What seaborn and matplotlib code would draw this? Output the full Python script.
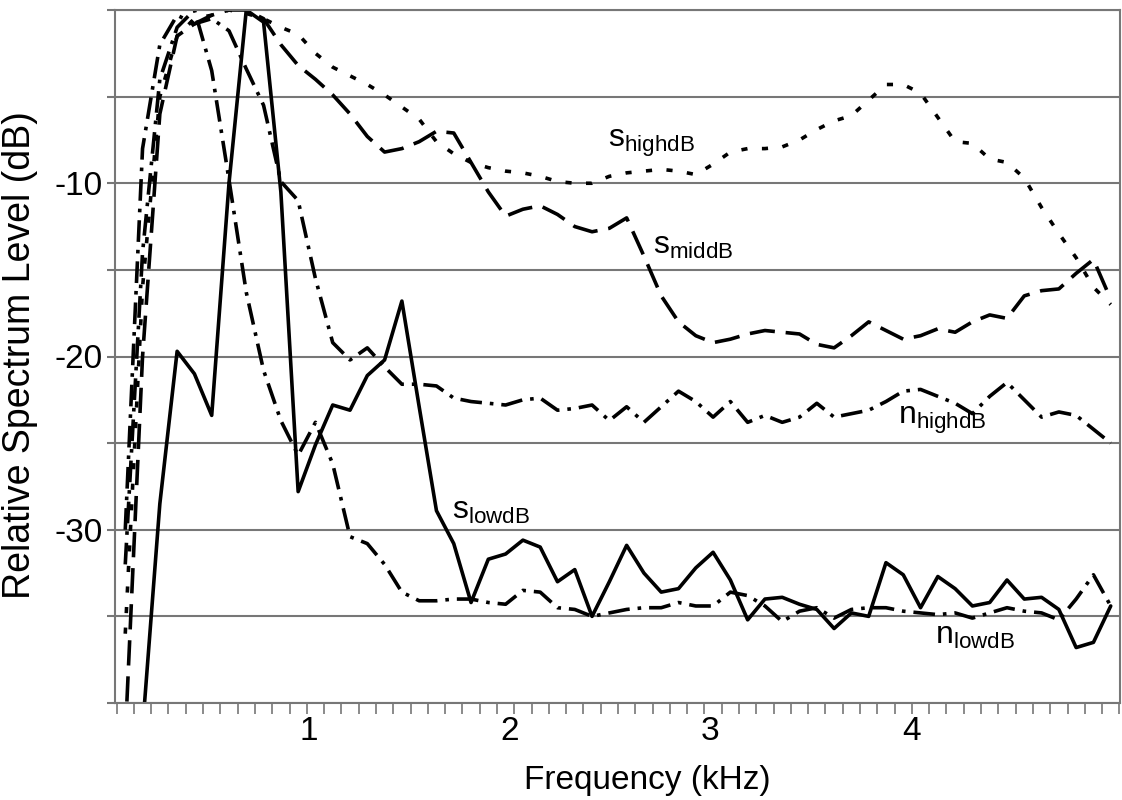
import numpy as np
import pandas as pd
import seaborn as sns
import matplotlib.pyplot as plt
import matplotlib.ticker as mtick

# frequency bins (kHz), 86.1 Hz spacing
freq = np.round(0.0861 * np.arange(1, 59), 4)

s_low = [-48, -41.5, -28.5, -19.7, -21, -23.4, -10, 0, -0.7, -10.5,
         -27.8, -25.1, -22.8, -23.1, -21.1, -20.2, -16.8, -22.9, -28.9, -30.8,
         -34.2, -31.7, -31.4, -30.6, -31, -33, -32.3, -35, -33, -30.9,
         -32.5, -33.6, -33.4, -32.2, -31.3, -32.9, -35.2, -34, -33.9, -34.3,
         -34.6, -35.7, -34.8, -35, -31.9, -32.6, -34.5, -32.7, -33.4, -34.4,
         -34.2, -32.9, -34, -33.9, -34.6, -36.8, -36.5, -34.4]

s_high = [-36, -16, -5, -1.5, -0.5, -0.3, 0, -0.2, -0.5, -1,
          -1.4, -2.5, -3.3, -3.8, -4.3, -4.9, -5.6, -6.3, -7.6, -8.3,
          -8.8, -9.1, -9.3, -9.4, -9.6, -9.9, -10, -10, -9.6, -9.4,
          -9.3, -9.2, -9.3, -9.5, -8.9, -8.2, -8, -8, -7.9, -7.5,
          -6.9, -6.4, -6.1, -5.2, -4.3, -4.3, -4.8, -6.2, -7.6, -7.7,
          -8.6, -8.8, -9.7, -11.4, -12.9, -14.3, -16, -17]

s_mid = [-42, -20, -6, -1.5, -0.8, -0.3, 0, 0, -0.5, -2,
         -3.2, -4, -4.9, -6, -7.3, -8.2, -8, -7.6, -7, -7.1,
         -8.8, -10.5, -11.9, -11.5, -11.3, -11.8, -12.5, -12.8, -12.6, -12,
         -14.2, -16.5, -18, -18.8, -19.2, -19, -18.7, -18.5, -18.6, -18.7,
         -19.3, -19.5, -18.8, -18, -18.5, -19, -18.8, -18.4, -18.6, -18,
         -17.6, -17.8, -16.5, -16.2, -16.1, -15.2, -14.4, -16.7]

n_high = [-30, -8, -2, -0.3, -0.8, -0.5, -1.2, -3.4, -5.5, -9.9,
          -11, -15.5, -19.2, -20.2, -19.5, -20.6, -21.6, -21.6, -21.7, -22.4,
          -22.6, -22.7, -22.8, -22.5, -22.4, -23.1, -23, -22.8, -23.7, -22.9,
          -23.8, -22.9, -22, -22.6, -23.5, -22.6, -23.8, -23.4, -23.8, -23.5,
          -22.7, -23.5, -23.3, -23.1, -22.6, -22, -21.9, -22.3, -22.7, -23.3,
          -22.3, -21.5, -22.5, -23.5, -23.2, -23.4, -24.2, -25]

n_low = [-32, -14, -4, -1, 0, -3.5, -9.8, -16.3, -20.8, -23.7,
         -25.7, -23.8, -26.2, -30.4, -30.8, -32, -33.6, -34.1, -34.1, -34,
         -34, -34.2, -34.3, -33.5, -33.6, -34.5, -34.6, -35, -34.8, -34.6,
         -34.5, -34.5, -34.2, -34.4, -34.4, -33.6, -33.8, -34.4, -35.3, -34.7,
         -34.5, -35.1, -34.6, -34.5, -34.5, -34.7, -34.8, -34.9, -34.8, -35.1,
         -34.8, -34.5, -34.7, -34.8, -35.2, -34, -32.6, -34.4]

series = {'s_low': s_low, 's_high': s_high, 's_mid': s_mid,
          'n_high': n_high, 'n_low': n_low}

df = pd.concat([pd.DataFrame({'freq': freq, 'level': v, 'series': k})
                for k, v in series.items()], ignore_index=True)

line_dashes = {
    's_low': '',
    's_high': (1.7, 4),
    's_mid': (7, 3),
    'n_high': (6, 2.2, 1, 2.2),
    'n_low': (6, 2.2, 1, 2.2),
}

sns.set_theme(style='white')
plt.rcParams['font.family'] = ['Liberation Sans', 'DejaVu Sans']
plt.rcParams['mathtext.fontset'] = 'custom'
plt.rcParams['mathtext.rm'] = 'Liberation Sans'
plt.rcParams['text.color'] = 'black'
plt.rcParams['xtick.color'] = 'black'
plt.rcParams['ytick.color'] = 'black'

fig = plt.figure(figsize=(11.22, 8), dpi=100)
ax = fig.add_axes([115 / 1122, 97 / 800, 1005 / 1122, 693 / 800])

sns.lineplot(data=df, x='freq', y='level', hue='series', style='series',
             palette=['black'] * 5, dashes=line_dashes, linewidth=2.6,
             legend=False, ax=ax)

grey = '#777777'
ax.set_xlim(0.035, 5.04)
ax.set_ylim(-40, 0)

# y axis: grid every 5 dB, labels every 10
ax.set_yticks(np.arange(-40, 1, 5))
ax.yaxis.set_major_formatter(mtick.FixedFormatter(
    ['', '', '-30', '', '-20', '', '-10', '', '']))
ax.yaxis.grid(True, color=grey, linewidth=1.5)
ax.tick_params(axis='y', direction='out', length=6, width=1.5, color=grey,
               labelsize=24, labelcolor='black', pad=3, left=True)

# x axis: labels at whole kHz, small tick for each bin
ax.set_xticks([1, 2, 3, 4])
ax.set_xticklabels(['1', '2', '3', '4'])
ax.xaxis.set_minor_locator(mtick.FixedLocator(0.0861 * (np.arange(0, 59) + 0.5)))
ax.tick_params(axis='x', which='major', length=0, labelsize=24,
               labelcolor='black', pad=9)
ax.tick_params(axis='x', which='minor', direction='out', length=8, width=1.2,
               color=grey, bottom=True)

for sp in ax.spines.values():
    sp.set_color(grey)
    sp.set_linewidth(1.5)

ax.set_xlabel('')
ax.set_ylabel('')
fig.text(647 / 1122, 1 - 781 / 800, 'Frequency (kHz)', ha='center', va='center',
         fontsize=24)
fig.text(20 / 1122, 1 - 355 / 800, 'Relative Spectrum Level (dB)', ha='center',
         va='center', rotation=90, fontsize=27)

# curve labels
labels = [
    (2.49, -7.9, r'$\mathregular{s_{highdB}}$'),
    (2.716, -14.1, r'$\mathregular{s_{middB}}$'),
    (3.934, -23.9, r'$\mathregular{n_{highdB}}$'),
    (1.711, -29.4, r'$\mathregular{s_{lowdB}}$'),
    (4.118, -36.6, r'$\mathregular{n_{lowdB}}$'),
]
for x, y, t in labels:
    ax.text(x, y, t, ha='left', va='baseline', fontsize=23, color='black')

fig.savefig('out.png', dpi=100, facecolor='white')
